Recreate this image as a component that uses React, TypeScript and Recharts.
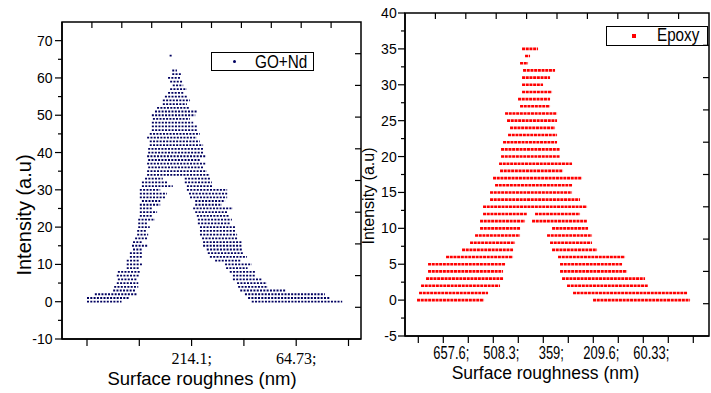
import React from "react";
import { LineChart, Line, XAxis, YAxis, Legend, ReferenceArea } from "recharts";

// each run is one dotted row of the scatter: [intensity level, from, to]
// x is measured in bottom-axis tick steps (tick 0 = first tick)
type Run = [number, number, number];

const goRuns: Run[] = [
  [0, 0.0, 0.66], [0, 3.15, 4.88],
  [1, 0.0, 0.82], [1, 3.08, 4.65],
  [2, 0.15, 0.95], [2, 3.02, 4.55],
  [3, 0.5, 0.92], [3, 2.93, 3.79],
  [4, 0.52, 0.98], [4, 2.89, 3.46],
  [5, 0.57, 0.98], [5, 2.87, 3.44],
  [6, 0.59, 0.96], [6, 2.79, 3.35],
  [7, 0.57, 1.01], [7, 2.79, 3.21],
  [8, 0.59, 1.01], [8, 2.73, 3.21],
  [9, 0.76, 1.01], [9, 2.66, 3.07],
  [10, 0.76, 1.05], [10, 2.64, 3.15],
  [11, 0.76, 1.01], [11, 2.45, 2.93],
  [12, 0.82, 1.05], [12, 2.35, 3.06],
  [13, 0.82, 1.05], [13, 2.31, 2.98],
  [14, 0.88, 1.05], [14, 2.29, 2.96],
  [15, 0.86, 1.15], [15, 2.22, 2.96],
  [16, 0.88, 1.05], [16, 2.22, 2.96],
  [17, 0.92, 1.17], [17, 2.2, 2.89],
  [18, 0.96, 1.17], [18, 2.16, 2.87],
  [19, 0.96, 1.15], [19, 2.16, 2.83],
  [20, 0.98, 1.2], [20, 2.16, 2.83],
  [21, 0.98, 1.15], [21, 2.12, 2.73],
  [22, 0.98, 1.3], [22, 2.12, 2.77],
  [23, 1.01, 1.26], [23, 2.1, 2.73],
  [24, 1.01, 1.34], [24, 2.07, 2.68],
  [25, 1.01, 1.26], [25, 2.03, 2.79],
  [26, 1.01, 1.4], [26, 2.07, 2.58],
  [27, 1.05, 1.4], [27, 2.07, 2.64],
  [28, 1.01, 1.49], [28, 1.97, 2.68],
  [29, 1.01, 1.53], [29, 1.95, 2.68],
  [30, 1.01, 1.4], [30, 1.91, 2.68],
  [31, 1.05, 1.64], [31, 1.91, 2.41],
  [32, 1.05, 1.53], [32, 1.87, 2.39],
  [33, 1.11, 1.45], [33, 1.87, 2.35],
  [34, 1.15, 2.35],
  [35, 1.15, 2.29],
  [36, 1.17, 2.22],
  [37, 1.15, 2.26],
  [38, 1.17, 2.16],
  [39, 1.15, 2.26],
  [40, 1.17, 2.22],
  [41, 1.17, 2.22],
  [42, 1.2, 2.22],
  [43, 1.2, 2.16],
  [44, 1.15, 2.1],
  [45, 1.2, 2.16],
  [46, 1.24, 2.1],
  [47, 1.24, 2.1],
  [48, 1.24, 2.03],
  [49, 1.26, 1.97],
  [50, 1.24, 2.07],
  [51, 1.3, 2.1],
  [52, 1.34, 1.97],
  [53, 1.45, 1.91],
  [54, 1.45, 1.97],
  [55, 1.49, 1.91],
  [56, 1.55, 1.84],
  [57, 1.59, 1.91],
  [58, 1.64, 1.84],
  [59, 1.59, 1.84],
  [60, 1.55, 1.78],
  [61, 1.63, 1.82],
  [62, 1.63, 1.72],
  [66, 1.58, 1.62],
];

const epoxyRuns: Run[] = [
  [0, -0.05, 2.63], [0, 6.99, 10.87],
  [1, 0.03, 2.79], [1, 6.19, 10.75],
  [2, 0.11, 3.27], [2, 5.95, 9.19],
  [3, 0.31, 3.39], [3, 5.75, 9.07],
  [4, 0.39, 3.39], [4, 5.67, 8.35],
  [5, 0.39, 3.47], [5, 5.67, 8.15],
  [6, 1.11, 3.79], [6, 5.59, 8.27],
  [7, 1.75, 3.79], [7, 5.35, 7.15],
  [8, 2.07, 3.87], [8, 5.27, 6.95],
  [9, 2.27, 4.07], [9, 5.15, 6.95],
  [10, 2.47, 4.07], [10, 5.35, 6.79],
  [11, 2.47, 4.27], [11, 4.55, 6.75],
  [12, 2.59, 4.35], [12, 4.67, 6.47],
  [13, 2.59, 6.75],
  [14, 2.87, 6.47],
  [15, 2.87, 6.15],
  [16, 3.07, 6.15],
  [17, 2.99, 6.55],
  [18, 3.27, 5.79],
  [19, 3.23, 6.15],
  [20, 3.31, 5.67],
  [21, 3.31, 5.67],
  [22, 3.39, 5.55],
  [23, 3.59, 5.55],
  [24, 3.67, 5.47],
  [25, 3.55, 5.55],
  [26, 3.47, 5.55],
  [27, 4.07, 5.27],
  [28, 3.99, 5.27],
  [29, 4.15, 5.35],
  [30, 4.15, 4.99],
  [31, 4.15, 5.27],
  [32, 4.19, 5.47],
  [33, 4.07, 4.39],
  [34, 4.27, 4.47],
  [35, 4.15, 4.79],
];

const goXDomain: [number, number] = [-0.478, 5.239];
const goYDomain: [number, number] = [-10, 75];
const goXTicks = [0, 1, 2, 3, 4, 5];
const goXLabels = ["", "", "214.1;", "", "64.73;", ""];
const goYMajor = [-10, 0, 10, 20, 30, 40, 50, 60, 70];
const goYMinor = [-5, 5, 15, 25, 35, 45, 55, 65];

const epoxyXDomain: [number, number] = [-0.532, 11.628];
const epoxyYDomain: [number, number] = [-5, 40];
const epoxyXTicks = [0, 1, 2, 3, 4, 5, 6, 7, 8, 9, 10, 11];
const epoxyXLabels = ["", "657.6;", "", "508.3;", "", "359;", "", "209.6;", "", "60.33;", "", ""];
const epoxyYMajor = [-5, 0, 5, 10, 15, 20, 25, 30, 35, 40];
const epoxyYMinor = [-2.5, 2.5, 7.5, 12.5, 17.5, 22.5, 27.5, 32.5, 37.5];

// the mirrored top and right frame edges carry ten even divisions of their own
const FRAME_DIVISIONS = 10;
const INNER_TICK_PX = 6;

const SANS = "'Liberation Sans', Arial, sans-serif";
const SERIF = "'Liberation Serif', 'Times New Roman', serif";
const NAVY = "#000060";
const RED = "#ff0000";
const axisLine = { stroke: "#000", strokeWidth: 1.5 };

function runsToPoints(runs: Run[]) {
  const pts: { x: number; y: number | null }[] = [];
  for (const [lvl, from, to] of runs) {
    pts.push({ x: from, y: lvl }, { x: to, y: lvl }, { x: to, y: null });
  }
  return pts;
}

const sortNum = (...lists: number[][]) => lists.flat().sort((p, q) => p - q);

function makeYTick(major: number[], gap: number) {
  return (props: any) => {
    const { x, y, payload } = props;
    const isMajor = major.includes(payload.value);
    return (
      <g>
        <line x1={x - (isMajor ? 7 : 4)} x2={x} y1={y} y2={y} stroke="#000" strokeWidth={1.2} />
        {isMajor && (
          <text x={x - gap} y={y + 5} textAnchor="end" fontSize={14} fontFamily={SANS} fill="#000">
            {payload.value}
          </text>
        )}
      </g>
    );
  };
}

function makeXTick(ticks: number[], labels: string[], o: { dx: number; dy: number; size: number; sx: number; font: string }) {
  return (props: any) => {
    const { x, y, payload } = props;
    const label = labels[ticks.indexOf(payload.value)] ?? "";
    return (
      <g>
        <line x1={x} x2={x} y1={y} y2={y + 7} stroke="#000" strokeWidth={1.2} />
        {label && (
          <text transform={`translate(${x + o.dx},${y + o.dy}) scale(${o.sx},1)`} textAnchor="middle" fontSize={o.size} fontFamily={o.font} fill="#000">
            {label}
          </text>
        )}
      </g>
    );
  };
}

// inward ticks on the top and right frame edges of a plot box
function FrameTicks({ left, top, w, h }: { left: number; top: number; w: number; h: number }) {
  const steps = Array.from({ length: FRAME_DIVISIONS - 1 }, (_, k) => k + 1);
  return (
    <g stroke="#000" strokeWidth={1.2}>
      {steps.map((k) => {
        const x = left + (k * w) / FRAME_DIVISIONS;
        return <line key={`t${k}`} x1={x} x2={x} y1={top} y2={top + INNER_TICK_PX} />;
      })}
      {steps.map((k) => {
        const y = top + (k * h) / FRAME_DIVISIONS;
        return <line key={`r${k}`} x1={left + w - INNER_TICK_PX} x2={left + w} y1={y} y2={y} />;
      })}
    </g>
  );
}

function LegendBox({ label, color, square, markerX, textX, size, sx }: any) {
  return (
    <div style={{ position: "relative", boxSizing: "border-box", width: "100%", height: "100%", border: "1px solid #000", background: "#fff", fontFamily: SANS }}>
      <div style={{ position: "absolute", left: markerX - (square ? 2 : 1.5), top: "50%", marginTop: square ? -2 : -1.5, width: square ? 4 : 3, height: square ? 4 : 3, background: color, borderRadius: square ? 0 : 2 }} />
      <div style={{ position: "absolute", left: textX, top: "50%", transform: `translateY(-50%) scaleX(${sx})`, transformOrigin: "left center", fontSize: size, lineHeight: 1, whiteSpace: "nowrap" }}>
        {label}
      </div>
    </div>
  );
}

export default function App() {
  const goData = runsToPoints(goRuns);
  const epoxyData = runsToPoints(epoxyRuns);

  return (
    <div style={{ position: "absolute", left: 0, top: 0, width: 711, height: 393, background: "#fff", overflow: "hidden" }}>
      {/* GO+Nd panel, plot box 62..361 x 22..339 */}
      <div style={{ position: "absolute", left: 0, top: 0, width: 362, height: 393 }}>
        <LineChart width={362} height={393} data={goData} margin={{ top: 22, right: 1, bottom: 53, left: 61 }}>
          <XAxis xAxisId="b" dataKey="x" type="number" domain={goXDomain} allowDataOverflow ticks={goXTicks} interval={0} height={1} tickSize={0} tickMargin={0} tickLine={false} axisLine={axisLine}
            tick={makeXTick(goXTicks, goXLabels, { dx: 0, dy: 24.5, size: 16, sx: 1, font: SERIF })} />
          <YAxis yAxisId="l" type="number" domain={goYDomain} allowDataOverflow ticks={sortNum(goYMajor, goYMinor)} interval={0} width={1} tickSize={0} tickMargin={0} tickLine={false} axisLine={axisLine}
            tick={makeYTick(goYMajor, 9.5)} />
          <ReferenceArea xAxisId="b" yAxisId="l" x1={goXDomain[0]} x2={goXDomain[1]} y1={goYDomain[0]} y2={goYDomain[1]} ifOverflow="visible" fill="none" stroke="#000" strokeWidth={1.5} />
          <Line xAxisId="b" yAxisId="l" dataKey="y" name="GO+Nd" type="linear" stroke={NAVY} strokeWidth={1.8} strokeDasharray="2 1.3" dot={false} activeDot={false} connectNulls={false} isAnimationActive={false} />
          <Legend layout="vertical" align="center" verticalAlign="middle" wrapperStyle={{ left: 211, top: 52, width: 103, height: 19 }}
            content={() => <LegendBox label="GO+Nd" color={NAVY} square={false} markerX={22} textX={43} size={18} sx={0.85} />} />
        </LineChart>
        <svg width={362} height={393} style={{ position: "absolute", left: 0, top: 0, pointerEvents: "none" }}>
          <FrameTicks left={62} top={22} w={299} h={317} />
          <text x={202} y={384.5} textAnchor="middle" fontSize={18.5} fontFamily={SANS} fill="#000">Surface roughnes (nm)</text>
          <text transform="translate(30.7,215) rotate(-90)" textAnchor="middle" fontSize={20} fontFamily={SANS} fill="#000">Intensity (a.u)</text>
        </svg>
      </div>

      {/* Epoxy panel, plot box 405..709 x 13..336 (local 44..348) */}
      <div style={{ position: "absolute", left: 361, top: 0, width: 350, height: 393, overflow: "hidden" }}>
        <LineChart width={350} height={393} data={epoxyData} margin={{ top: 13, right: 2, bottom: 56, left: 43 }}>
          <XAxis xAxisId="b" dataKey="x" type="number" domain={epoxyXDomain} allowDataOverflow ticks={epoxyXTicks} interval={0} height={1} tickSize={0} tickMargin={0} tickLine={false} axisLine={axisLine}
            tick={makeXTick(epoxyXTicks, epoxyXLabels, { dx: 8, dy: 22.6, size: 17.5, sx: 0.74, font: SANS })} />
          <YAxis yAxisId="l" type="number" domain={epoxyYDomain} allowDataOverflow ticks={sortNum(epoxyYMajor, epoxyYMinor)} interval={0} width={1} tickSize={0} tickMargin={0} tickLine={false} axisLine={axisLine}
            tick={makeYTick(epoxyYMajor, 8.3)} />
          <ReferenceArea xAxisId="b" yAxisId="l" x1={epoxyXDomain[0]} x2={epoxyXDomain[1]} y1={epoxyYDomain[0]} y2={epoxyYDomain[1]} ifOverflow="visible" fill="none" stroke="#000" strokeWidth={1.5} />
          <Line xAxisId="b" yAxisId="l" dataKey="y" name="Epoxy" type="linear" stroke={RED} strokeWidth={2.6} strokeDasharray="3 0.7" dot={false} activeDot={false} connectNulls={false} isAnimationActive={false} />
          <Legend layout="vertical" align="center" verticalAlign="middle" wrapperStyle={{ left: 245, top: 26, width: 102, height: 20 }}
            content={() => <LegendBox label="Epoxy" color={RED} square markerX={27} textX={50} size={17.5} sx={0.87} />} />
        </LineChart>
        <svg width={350} height={393} style={{ position: "absolute", left: 0, top: 0, pointerEvents: "none" }}>
          <FrameTicks left={44} top={13} w={304} h={323} />
          <text x={184.5} y={379} textAnchor="middle" fontSize={17.5} fontFamily={SANS} fill="#000">Surface roughness (nm)</text>
          <text transform="translate(13,196) rotate(-90)" textAnchor="middle" fontSize={16} fontFamily={SANS} fill="#000">Intensity (a.u)</text>
        </svg>
      </div>
    </div>
  );
}
